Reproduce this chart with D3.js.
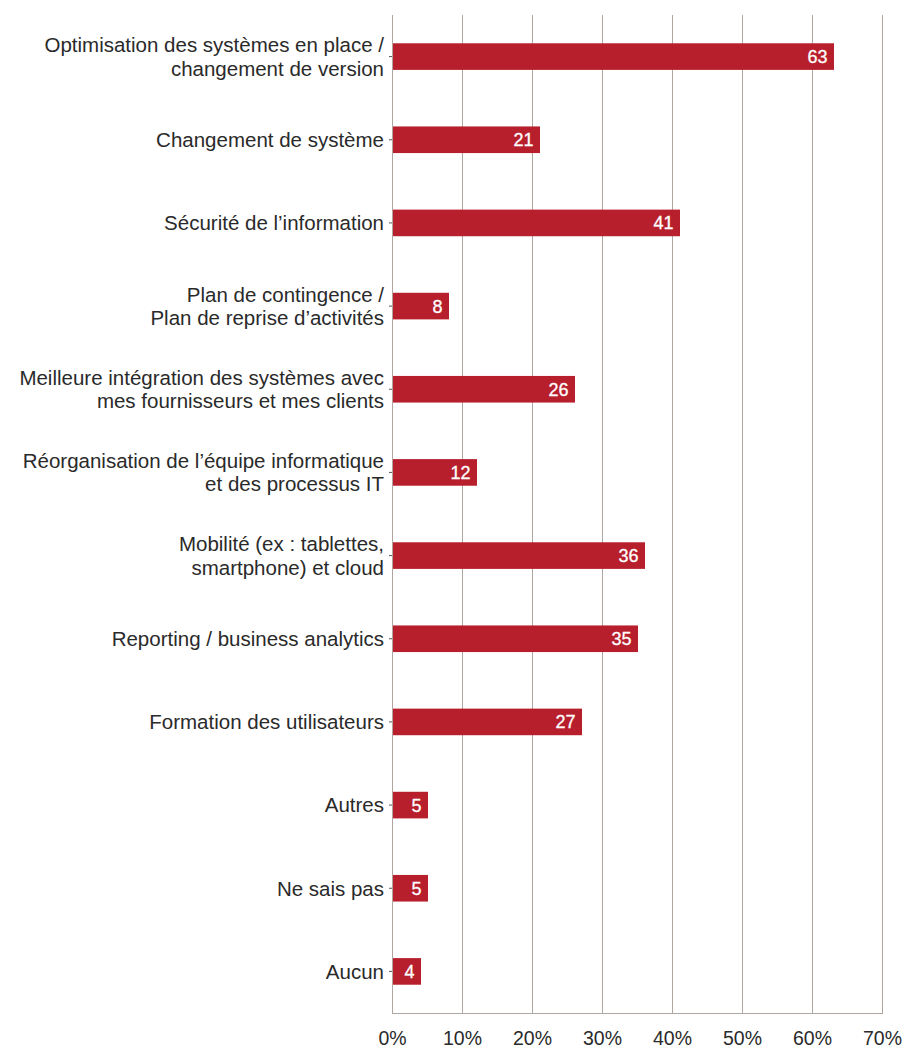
<!DOCTYPE html>
<html>
<head>
<meta charset="utf-8">
<script src="https://cdn.jsdelivr.net/npm/d3@7"></script>
<style>
  html, body { margin: 0; padding: 0; background: #fff; }
  svg { display: block; }
  text { font-family: "Liberation Sans", Arial, Helvetica, sans-serif; }
</style>
</head>
<body>
<svg id="chart" width="905" height="1048"></svg>
<script>
const categories = [
  ["Optimisation des systèmes en place /", "changement de version"],
  ["Changement de système"],
  ["Sécurité de l’information"],
  ["Plan de contingence /", "Plan de reprise d’activités"],
  ["Meilleure intégration des systèmes avec", "mes fournisseurs et mes clients"],
  ["Réorganisation de l’équipe informatique", "et des processus IT"],
  ["Mobilité (ex : tablettes,", "smartphone) et cloud"],
  ["Reporting / business analytics"],
  ["Formation des utilisateurs"],
  ["Autres"],
  ["Ne sais pas"],
  ["Aucun"]
];
const values = [63, 21, 41, 8, 26, 12, 36, 35, 27, 5, 5, 4];
const tickValues = [0, 10, 20, 30, 40, 50, 60, 70];
const tickLabels = ["0%", "10%", "20%", "30%", "40%", "50%", "60%", "70%"];

(function () {
const svg = d3.select("#chart");
const mLeft = 392, mRight = 882, mTop = 15, mBottom = 1013;
const barColor = "#b81f2d";
const gridColor = "#b0a69f";

const x = d3.scaleLinear().domain([0, 70]).range([mLeft, mRight]);
const keys = categories.map((c, i) => i);
const y = d3.scaleBand().domain(keys).range([mTop, mBottom])
  .paddingInner(0.68).paddingOuter(0.34);

// gridlines
svg.append("g").selectAll("line").data(tickValues).join("line")
  .attr("x1", d => x(d) + 0.5).attr("x2", d => x(d) + 0.5)
  .attr("y1", mTop).attr("y2", mBottom + 0.5)
  .attr("stroke", gridColor).attr("stroke-width", 1);

// bottom baseline
svg.append("line")
  .attr("x1", x(0)).attr("x2", x(70) + 1)
  .attr("y1", mBottom + 0.5).attr("y2", mBottom + 0.5)
  .attr("stroke", gridColor).attr("stroke-width", 1);

// x axis tick labels
const xAxis = d3.axisBottom(x).tickValues(tickValues)
  .tickFormat((d, i) => tickLabels[i]).tickSize(0).tickPadding(0);
const gx = svg.append("g").attr("transform", `translate(0,${mBottom})`).call(xAxis);
gx.select(".domain").remove();
gx.selectAll("text")
  .attr("y", 32).attr("dy", null)
  .attr("fill", "#2a2a2a")
  .style("font-size", "19.5px")
  .style("font-family", "'Liberation Sans', Arial, sans-serif");

// small y ticks
svg.append("g").selectAll("line").data(keys).join("line")
  .attr("x1", mLeft - 3).attr("x2", mLeft)
  .attr("y1", d => y(d) + y.bandwidth() / 2)
  .attr("y2", d => y(d) + y.bandwidth() / 2)
  .attr("stroke", "#555").attr("stroke-width", 1);

// bars
svg.append("g").selectAll("rect").data(values).join("rect")
  .attr("x", x(0) + 1)
  .attr("y", (d, i) => y(i))
  .attr("width", d => x(d) - x(0))
  .attr("height", y.bandwidth())
  .attr("fill", barColor);

// value labels
svg.append("g").selectAll("text").data(values).join("text")
  .attr("x", d => x(d) - 5.5)
  .attr("y", (d, i) => y(i) + y.bandwidth() / 2 + 6.5)
  .attr("text-anchor", "end")
  .attr("fill", "#fff")
  .style("font-size", "18px")
  .style("stroke", "#fff").style("stroke-width", "0.3px")
  .text(d => d);

// category labels
const lineH = 23.3;
const lab = svg.append("g").selectAll("text").data(categories).join("text")
  .attr("text-anchor", "end")
  .attr("fill", "#2a2a2a")
  .style("font-size", "20.5px");
lab.each(function(lines, i) {
  const cy = y(i) + y.bandwidth() / 2;
  const n = lines.length;
  d3.select(this).selectAll("tspan").data(lines).join("tspan")
    .attr("x", mLeft - 8)
    .attr("y", (l, j) => cy + 7.3 + (j - (n - 1) / 2) * lineH)
    .text(l => l);
});
})();
</script>
</body>
</html>
